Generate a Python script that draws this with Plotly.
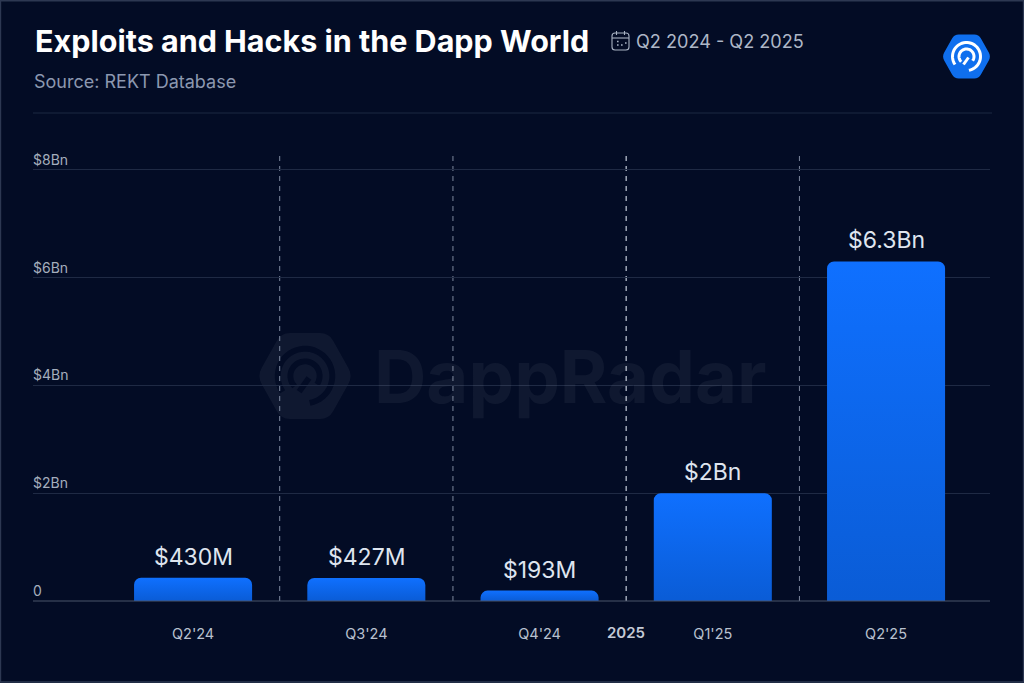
import numpy as np
import plotly.graph_objects as go

quarters = ["Q2'24", "Q3'24", "Q4'24", "Q1'25", "Q2'25"]
exploit_values = [0.43, 0.427, 0.193, 2.0, 6.3]
value_labels = ["$430M", "$427M", "$193M", "$2Bn", "$6.3Bn"]
y_ticks = [0, 2, 4, 6, 8]
y_tick_labels = ["0", "$2Bn", "$4Bn", "$6Bn", "$8Bn"]

BG = "#030c25"
FONT = "Inter"

# plot area in pixels of the 1024x683 picture
LEFT, RIGHT, TOP, BOTTOM = 33, 990, 113, 601


def px(x):
    return (x - LEFT) / (RIGHT - LEFT)


def py(y):
    return (BOTTOM - y) / (BOTTOM - TOP)


def path_from(points, close=False):
    parts = [f"{px(x):.5f},{py(y):.5f}" for x, y in points]
    return "M" + " L".join(parts) + (" Z" if close else "")


def arc(cx, cy, r, start, end):
    t = np.radians(np.linspace(start, end, 40))
    return path_from(list(zip(cx + r * np.cos(t), cy - r * np.sin(t))))


def paper_shape(path, **kw):
    return dict(type="path", xref="paper", yref="paper", path=path, **kw)


def line_shape(x0, y0, x1, y1, color, width=1, **kw):
    return dict(type="line", xref="paper", yref="paper", x0=px(x0), y0=py(y0), x1=px(x1), y1=py(y1),
                line=dict(color=color, width=width), **kw)


def rounded_poly(points, cut):
    # polygon with its corners cut by a quadratic curve
    n = len(points)
    d = ""
    for i, p in enumerate(points):
        p = np.array(p, float)
        prev = np.array(points[i - 1], float)
        nxt = np.array(points[(i + 1) % n], float)
        a = p + (prev - p) / np.linalg.norm(prev - p) * cut
        b = p + (nxt - p) / np.linalg.norm(nxt - p) * cut
        d += ("M" if i == 0 else "L") + f"{px(a[0]):.5f},{py(a[1]):.5f} "
        d += f"Q{px(p[0]):.5f},{py(p[1]):.5f} {px(b[0]):.5f},{py(b[1]):.5f} "
    return d + "Z"


def logo(cx, cy, scale, fill, ring, layer):
    hw, hh = 24.5 * scale, 22 * scale
    hexagon = [(cx - hw, cy), (cx - hw / 2, cy - hh), (cx + hw / 2, cy - hh),
               (cx + hw, cy), (cx + hw / 2, cy + hh), (cx - hw / 2, cy + hh)]
    out = [paper_shape(rounded_poly(hexagon, 4.5 * scale), fillcolor=fill, line=dict(width=0), layer=layer)]
    ring_line = dict(color=ring, width=3 * scale)
    out.append(paper_shape(arc(cx, cy, 14 * scale, 215, -80), line=ring_line, layer=layer))
    out.append(paper_shape(arc(cx, cy, 7.5 * scale, 225, -35), line=ring_line, layer=layer))
    out.append(paper_shape(path_from([(cx - 3 * scale, cy + 8 * scale), (cx + 2 * scale, cy + 1 * scale)]), line=ring_line, layer=layer))
    return out


def calendar(x0, y0, x1, y1, color):
    r = 3
    body = (f"M{px(x0 + r)},{py(y0)} L{px(x1 - r)},{py(y0)} Q{px(x1)},{py(y0)} {px(x1)},{py(y0 + r)} "
            f"L{px(x1)},{py(y1 - r)} Q{px(x1)},{py(y1)} {px(x1 - r)},{py(y1)} L{px(x0 + r)},{py(y1)} "
            f"Q{px(x0)},{py(y1)} {px(x0)},{py(y1 - r)} L{px(x0)},{py(y0 + r)} Q{px(x0)},{py(y0)} {px(x0 + r)},{py(y0)} Z")
    out = [paper_shape(body, line=dict(color=color, width=1.1))]
    out.append(line_shape(x0, y0 + 5, x1, y0 + 5, color, 1.1))
    out.append(line_shape(x0 + 4.5, y0 - 2, x0 + 4.5, y0 + 2, color, 1.1))
    out.append(line_shape(x1 - 4.5, y0 - 2, x1 - 4.5, y0 + 2, color, 1.1))
    for dx, dy in [(5, 8.5), (5, 12), (9, 12), (13, 10)]:
        out.append(line_shape(x0 + dx, y0 + dy, x0 + dx + 1.6, y0 + dy, color, 1.4))
    return out


fig = go.Figure()
fig.add_trace(go.Bar(x=quarters, y=exploit_values, width=118 / 173.2, marker=dict(color="#0d69f2", line=dict(width=0), cornerradius=7),
                     hoverinfo="skip", showlegend=False))

shapes = []
shapes += logo(305, 376, 1.95, "rgba(255,255,255,0.05)", "#030c25", "below")
shapes += logo(966.5, 56.5, 1, "#0f6fee", "#ffffff", "above")
shapes += calendar(612, 33, 629, 50, "#a9b3c4")
shapes.append(line_shape(33, 113, 992, 113, "#1d2842"))
shapes.append(line_shape(33, 601, 990, 601, "#4a556b", 1.2))
# year and quarter separators
for i in range(4):
    shapes.append(dict(type="line", xref="x", yref="y", x0=i + 0.5, x1=i + 0.5, y0=0, y1=8.33,
                       line=dict(color="#aab2c0" if i == 2 else "#7d889e", width=1.4 if i == 2 else 1, dash="5px,5px"), layer="below"))
# thin frame of the card
shapes.append(dict(type="rect", xref="paper", yref="paper", x0=px(0.5), x1=px(1023.5), y0=py(682), y1=py(0.8),
                   line=dict(color="#2d3852", width=1.4)))

annotations = [
    dict(x=q, y=v, text=t, yshift=5, yanchor="bottom", showarrow=False, font=dict(size=23, color="#dfe5ef"))
    for q, v, t in zip(quarters, exploit_values, value_labels)
]
annotations += [
    dict(xref="paper", yref="paper", x=px(33.5), y=py(40), text="Exploits and Hacks in the Dapp World", xanchor="left", yanchor="middle",
         showarrow=False, font=dict(size=30.5, color="#ffffff", weight=700), borderpad=0),
    dict(xref="paper", yref="paper", x=px(635), y=py(41), text="Q2 2024 - Q2 2025", xanchor="left", yanchor="middle", showarrow=False,
         font=dict(size=18.1, color="#aeb7c7"), borderpad=0),
    dict(xref="paper", yref="paper", x=px(33), y=py(82), text="Source: REKT Database", xanchor="left", yanchor="middle", showarrow=False,
         font=dict(size=18, color="#8c98b0"), borderpad=0),
    dict(xref="paper", yref="paper", x=px(373), y=py(376), text="DappRadar", xanchor="left", yanchor="middle", showarrow=False,
         font=dict(size=72.5, color="rgba(255,255,255,0.05)", weight=700), borderpad=0),
    dict(x=2.5, xref="x", yref="paper", y=py(632), text="2025", yanchor="middle", showarrow=False,
         font=dict(size=15, color="#c3cad6", weight=600)),
]

fig.update_layout(
    width=1024,
    height=683,
    autosize=False,
    margin=dict(l=LEFT, r=1024 - RIGHT, t=TOP, b=683 - BOTTOM, pad=0),
    paper_bgcolor=BG,
    plot_bgcolor=BG,
    font=dict(family=FONT, color="#b9c1cf"),
    shapes=shapes,
    annotations=annotations,
    showlegend=False,
)
fig.update_xaxes(type="category", range=[-0.924, 4.6], showgrid=False, zeroline=False, showline=False, ticks="",
                 tickfont=dict(size=14.5, color="#b9c1cf"), ticklabelstandoff=22)
fig.update_yaxes(range=[0, 488 / 53.9], tickvals=y_ticks, ticktext=y_tick_labels, showgrid=True, gridcolor="#1f2a44", gridwidth=1,
                 zeroline=False, showline=False, ticks="", ticklabelposition="inside", ticklabelshift=-10,
                 tickfont=dict(size=14, color="#a5aebd"), ticklabelstandoff=-3)

# bars fade slightly to the bottom; plotly has no gradient fill for bars
post = """
document.body.style.margin = '0';
document.documentElement.style.overflow = 'hidden';
var svg = document.querySelector('.main-svg');
var ns = 'http://www.w3.org/2000/svg';
var grad = document.createElementNS(ns, 'linearGradient');
grad.setAttribute('id', 'barfade');
grad.setAttribute('x1', '0'); grad.setAttribute('y1', '0');
grad.setAttribute('x2', '0'); grad.setAttribute('y2', '1');
[['0', '#0f70ff'], ['1', '#0a5cd6']].forEach(function (s) {
  var st = document.createElementNS(ns, 'stop');
  st.setAttribute('offset', s[0]); st.setAttribute('stop-color', s[1]);
  grad.appendChild(st);
});
svg.querySelector('defs').appendChild(grad);
document.querySelectorAll('.bars .point path').forEach(function (p) { p.style.fill = 'url(#barfade)'; });
"""
fig.write_html("out.html", post_script=post, config=dict(displayModeBar=False))
